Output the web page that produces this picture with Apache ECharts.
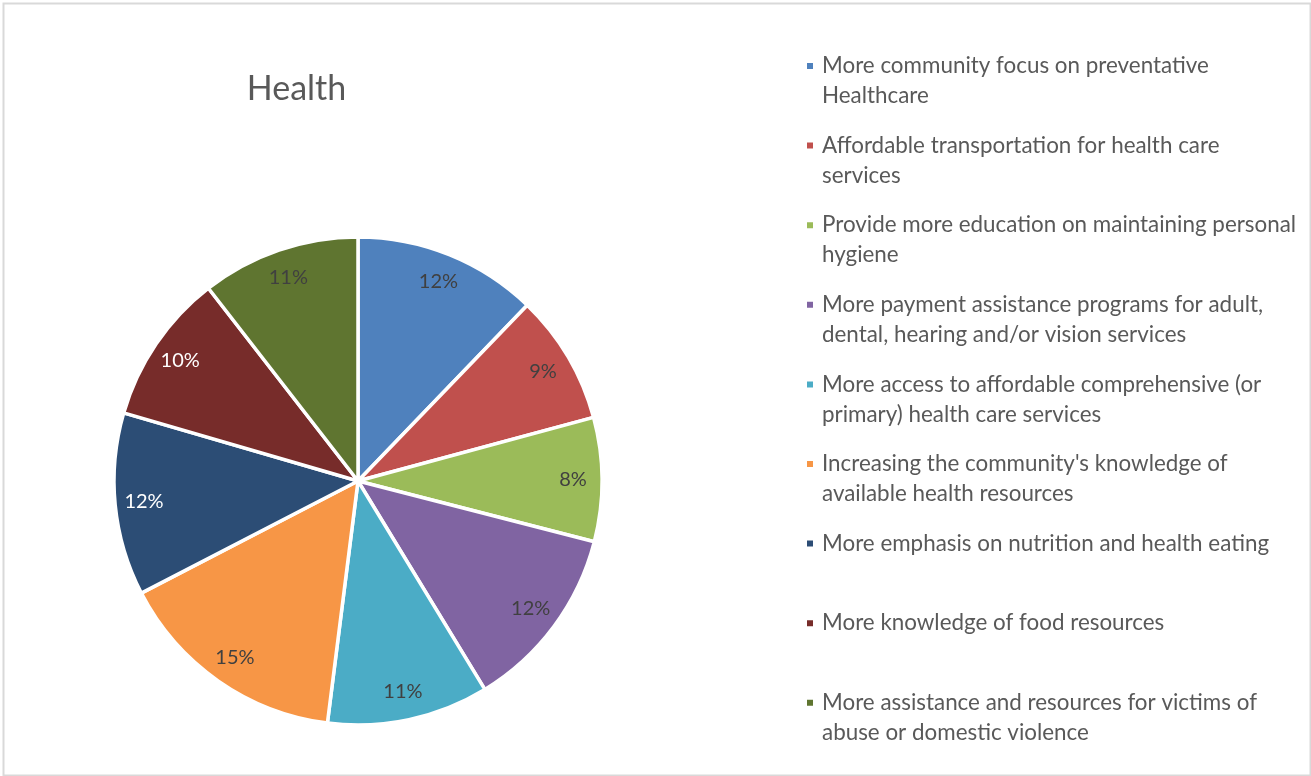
<!DOCTYPE html>
<html>
<head>
<meta charset="utf-8">
<script src="https://cdn.jsdelivr.net/npm/echarts@6/dist/echarts.min.js"></script>
<style>
  html, body { margin: 0; padding: 0; background: #ffffff; }
  #chart { width: 1311px; height: 776px; }
</style>
</head>
<body>
<div id="chart"></div>
<script>
const titleText = 'Health';
const categories = [
  'More community focus on preventative Healthcare',
  'Affordable transportation for health care services',
  'Provide more education on maintaining personal hygiene',
  'More payment assistance programs for adult, dental, hearing and/or vision services',
  'More access to affordable comprehensive (or primary) health care services',
  "Increasing the community's knowledge of available health resources",
  'More emphasis on nutrition and health eating',
  'More knowledge of food resources',
  'More assistance and resources for victims of abuse or domestic violence'
];
const legendLabels = [
  'More community focus on preventative\nHealthcare',
  'Affordable transportation for health care\nservices',
  'Provide more education on maintaining personal\nhygiene',
  'More payment assistance programs for adult,\ndental, hearing and/or vision services',
  'More access to affordable comprehensive (or\nprimary) health care services',
  "Increasing the community's knowledge of\navailable health resources",
  'More emphasis on nutrition and health eating',
  'More knowledge of food resources',
  'More assistance and resources for victims of\nabuse or domestic violence'
];
const values = [12.2, 8.6, 8.2, 12.3, 10.7, 15.4, 12.1, 10.0, 10.5];
const colors = ['#4F81BD', '#C0504D', '#9BBB59', '#8064A2', '#4BACC6', '#F79646', '#2C4D75', '#772C2A', '#5F7530'];
const labelColors = ['#404040', '#404040', '#404040', '#404040', '#404040', '#404040', '#FFFFFF', '#FFFFFF', '#404040'];

const FONT = 'Lato';
const chart = echarts.init(document.getElementById('chart'), null, { renderer: 'canvas' });

const mainData = categories.map((name, i) => ({
  name: name,
  value: values[i],
  itemStyle: { color: colors[i] }
}));
const labelData = categories.map((name, i) => ({
  name: name,
  value: values[i],
  itemStyle: { color: 'rgba(0,0,0,0)', borderWidth: 0 },
  label: { color: labelColors[i] }
}));

// every legend entry is laid out as 3 text rows (blank, line 1, line 2 / blank)
// so that the first visible row is centred on the marker and all slots are equal
function legendText(name) {
  const lines = legendLabels[categories.indexOf(name)].split('\n');
  const rows = lines.length === 1 ? [' ', lines[0], ' '] : [' ', lines[0], lines[1]];
  return rows.map(function (r) { return '{t|' + r + '}'; }).join('\n');
}

const option = {
  backgroundColor: '#ffffff',
  animation: false,
  title: {
    text: titleText,
    left: 291.5,
    top: 67,
    textAlign: 'center',
    textStyle: { fontFamily: FONT, fontSize: 34, fontWeight: 'normal', color: '#595959' }
  },
  legend: {
    orient: 'vertical',
    left: 800,
    top: 16,
    itemWidth: 8,
    itemHeight: 8,
    itemGap: -10.4,
    icon: 'rect',
    selectedMode: false,
    data: categories,
    formatter: legendText,
    textStyle: {
      fontFamily: FONT, fontSize: 22.4, lineHeight: 30, color: '#595959',
      rich: {
        t: { fontFamily: FONT, fontSize: 22.4, lineHeight: 30, height: 30, color: '#595959', padding: [0, 0, 0, 3] }
      }
    }
  },
  graphic: [{
    type: 'rect',
    left: 1, top: 1,
    shape: { x: 0, y: 0, width: 1307, height: 772 },
    style: { fill: 'none', stroke: '#D9D9D9', lineWidth: 2 },
    silent: true
  }],
  series: [
    {
      name: 'Health',
      type: 'pie',
      center: [358, 481],
      radius: [0, 244],
      startAngle: 90,
      clockwise: true,
      avoidLabelOverlap: false,
      label: { show: false },
      labelLine: { show: false },
      itemStyle: { borderColor: '#ffffff', borderWidth: 3.5 },
      emphasis: { disabled: true },
      data: mainData
    },
    {
      name: 'labels',
      type: 'pie',
      center: [358, 481],
      radius: [180, 244],
      startAngle: 90,
      clockwise: true,
      silent: true,
      avoidLabelOverlap: false,
      percentPrecision: 0,
      label: {
        show: true,
        position: 'inside',
        formatter: '{d}%',
        fontFamily: FONT,
        fontSize: 20,
        textBorderWidth: 0
      },
      labelLine: { show: false },
      emphasis: { disabled: true },
      data: labelData
    }
  ]
};
chart.setOption(option);
</script>
</body>
</html>
